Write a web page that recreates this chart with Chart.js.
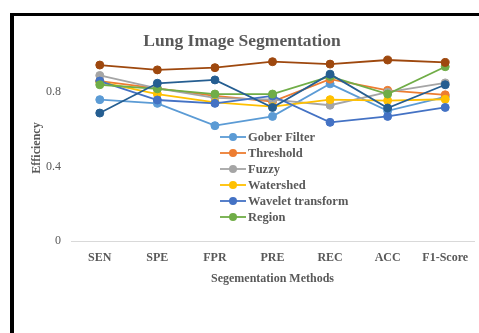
<!DOCTYPE html>
<html>
<head>
<meta charset="utf-8">
<script src="https://cdn.jsdelivr.net/npm/chart.js@4/dist/chart.umd.min.js"></script>
<style>
  html, body { margin: 0; padding: 0; background: #fff; overflow: hidden; }
  #wrap { position: relative; width: 479px; height: 333px; overflow: hidden; }
  #frame { position: absolute; left: 10px; top: 13px; width: 600px; height: 400px;
           border-left: 4px solid #000; border-top: 3px solid #000; box-sizing: border-box; }
  #c { position: absolute; left: 0; top: 0; }
</style>
</head>
<body>
<div id="wrap">
  <div id="frame"></div>
  <canvas id="c" width="479" height="333"></canvas>
</div>
<script>
// Categories and per-method efficiency values
const categories = ['SEN', 'SPE', 'FPR', 'PRE', 'REC', 'ACC', 'F1-Score'];
const gober     = [0.76, 0.74, 0.62, 0.67, 0.845, 0.70, 0.775];
const threshold = [0.86, 0.82, 0.78, 0.75, 0.87, 0.81, 0.786];
const fuzzy     = [0.89, 0.82, 0.77, 0.76, 0.73, 0.80, 0.85];
const watershed = [0.855, 0.79, 0.745, 0.722, 0.76, 0.755, 0.762];
const wavelet   = [0.86, 0.758, 0.74, 0.78, 0.638, 0.67, 0.718];
const region    = [0.84, 0.818, 0.79, 0.79, 0.885, 0.79, 0.937];
const series7   = [0.688, 0.848, 0.866, 0.718, 0.897, 0.715, 0.84];
const series8   = [0.946, 0.92, 0.932, 0.964, 0.951, 0.973, 0.96];
const yTicks    = [0, 0.4, 0.8];

const seriesNames  = ['Gober Filter', 'Threshold', 'Fuzzy', 'Watershed', 'Wavelet transform', 'Region', 'Series7', 'Series8'];
const seriesData   = [gober, threshold, fuzzy, watershed, wavelet, region, series7, series8];
const seriesColors = ['#5B9BD5', '#ED7D31', '#A5A5A5', '#FFC000', '#4472C4', '#70AD47', '#255E91', '#9E480E'];
const legendCount  = 6;

const FONT = '"Liberation Serif", "Times New Roman", serif';
const TEXT = '#595959';

const datasets = seriesNames.map((name, i) => ({
  label: name,
  data: seriesData[i],
  borderColor: seriesColors[i],
  backgroundColor: seriesColors[i],
  pointBackgroundColor: seriesColors[i],
  pointBorderColor: seriesColors[i],
  borderWidth: 1.8,
  pointRadius: 4,
  pointBorderWidth: 1,
  tension: 0,
  order: seriesNames.length - i
}));

// Legend drawn inside the plot area
const innerLegend = {
  id: 'innerLegend',
  afterDatasetsDraw(chart) {
    const ctx = chart.ctx;
    const a = chart.chartArea;
    const x0 = a.left + 149, y0 = a.top + 82, rowH = 16;
    ctx.save();
    ctx.font = 'bold 12.5px ' + FONT;
    ctx.textBaseline = 'middle';
    ctx.textAlign = 'left';
    for (let i = 0; i < legendCount; i++) {
      const y = y0 + i * rowH;
      const c = seriesColors[i];
      ctx.strokeStyle = c;
      ctx.lineWidth = 1.8;
      ctx.beginPath();
      ctx.moveTo(x0, y);
      ctx.lineTo(x0 + 26, y);
      ctx.stroke();
      ctx.fillStyle = c;
      ctx.beginPath();
      ctx.arc(x0 + 13, y, 4, 0, Math.PI * 2);
      ctx.fill();
      ctx.fillStyle = TEXT;
      ctx.fillText(seriesNames[i], x0 + 28, y + 1);
    }
    ctx.restore();
  }
};

new Chart(document.getElementById('c'), {
  type: 'line',
  data: { labels: categories, datasets },
  plugins: [innerLegend],
  options: {
    responsive: false,
    devicePixelRatio: 1,
    animation: false,
    layout: { padding: { left: 10, right: 5, top: 0, bottom: 47 } },
    plugins: {
      legend: { display: false },
      tooltip: { enabled: false },
      title: {
        display: true,
        text: 'Lung Image Segmentation',
        color: TEXT,
        font: { family: FONT, size: 17.5, weight: 'bold' },
        padding: { top: 31, bottom: 3 }
      }
    },
    scales: {
      x: {
        offset: true,
        grid: { display: false, drawTicks: false },
        border: { display: true, color: '#D9D9D9', width: 1 },
        ticks: { color: TEXT, font: { family: FONT, size: 12, weight: 'bold' }, padding: 10, maxRotation: 0 },
        title: {
          display: true,
          text: 'Segementation Methods',
          color: TEXT,
          font: { family: FONT, size: 12, weight: 'bold' },
          padding: { top: 4, bottom: 0 }
        },
        afterFit(s) { s.height = 45; }
      },
      y: {
        min: 0,
        max: 1.0,
        afterBuildTicks(s) { s.ticks = yTicks.map(v => ({ value: v })); },
        grid: { display: false, drawTicks: false },
        border: { display: false },
        ticks: {
          color: TEXT,
          font: { family: FONT, size: 12 },
          padding: 10,
          callback: v => String(v)
        },
        title: {
          display: true,
          text: 'Efficiency',
          color: TEXT,
          font: { family: FONT, size: 12, weight: 'bold' },
          padding: { top: 20, bottom: 0 }
        },
        afterFit(s) { s.width = 61; }
      }
    }
  }
});
</script>
</body>
</html>
